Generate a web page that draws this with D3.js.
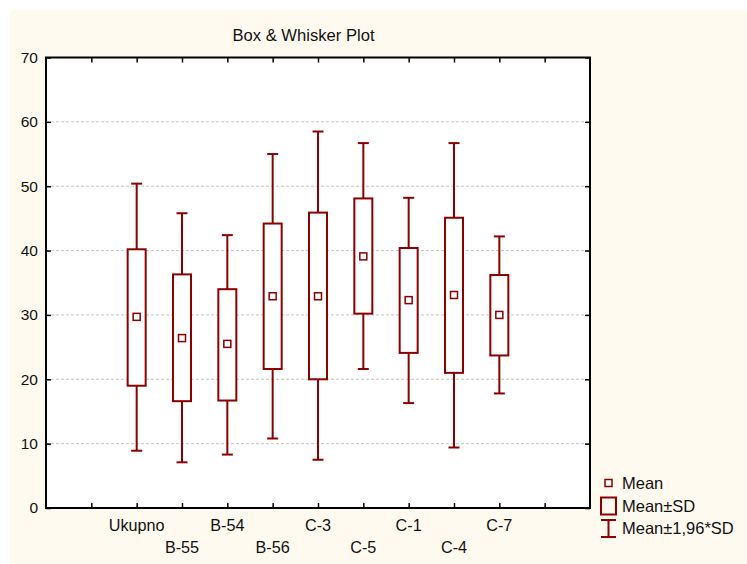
<!DOCTYPE html>
<html><head><meta charset="utf-8">
<script src="https://cdn.jsdelivr.net/npm/d3@7"></script>
<style>body{margin:0;background:#fff;}svg{display:block;}text{font-family:"Liberation Sans",Arial,sans-serif;fill:#111;}</style>
</head><body><svg id="c" width="747" height="564"></svg>
<script>
const categories = ["Ukupno","B-55","B-54","B-56","C-3","C-5","C-1","C-4","C-7"];
const means   = [29.7, 26.4, 25.5, 32.9, 32.9, 39.1, 32.3, 33.1, 30.0];
const sdLow   = [19.0, 16.6, 16.7, 21.6, 20.0, 30.2, 24.1, 21.0, 23.7];
const sdHigh  = [40.2, 36.3, 34.0, 44.2, 45.9, 48.1, 40.4, 45.1, 36.2];
const ciLow   = [8.9, 7.1, 8.3, 10.8, 7.5, 21.6, 16.3, 9.4, 17.8];
const ciHigh  = [50.4, 45.8, 42.4, 55.0, 58.5, 56.7, 48.2, 56.7, 42.2];
const yTicks  = [0,10,20,30,40,50,60,70];
const legendLabels = ["Mean","Mean±SD","Mean±1,96*SD"];
const title = "Box & Whisker Plot";

const col = "#8b0000";
const svg = d3.select("#c");
svg.append("rect").attr("x",10).attr("y",10).attr("width",737).attr("height",554).attr("fill","#fffaef");

const L=46,R=590,T=57.5,B=508;
const x = d3.scaleLinear().domain([0,categories.length+3]).range([L,R]);
const y = d3.scaleLinear().domain([0,70]).range([B,T]);

svg.append("rect").attr("x",L).attr("y",T).attr("width",R-L).attr("height",B-T).attr("fill","#fff");

// grid
svg.append("g").selectAll("line").data(yTicks.filter(d=>d>0&&d<70)).join("line")
  .attr("x1",L).attr("x2",R).attr("y1",d=>y(d)).attr("y2",d=>y(d))
  .attr("stroke","#c4c4c4").attr("stroke-width",1).attr("stroke-dasharray","3,2");

// axes
const tickIdx = d3.range(1,categories.length+3);
svg.append("g").attr("transform",`translate(${L},0)`)
  .call(d3.axisLeft(y).tickValues(yTicks).tickSize(-5).tickPadding(8).tickFormat(d3.format("d")))
  .call(g=>{g.select(".domain").remove();g.selectAll("text").style("font-size","15.5px").attr("fill","#111");g.selectAll("line").attr("stroke","#000").attr("stroke-width",1.5);});
svg.append("g").attr("transform",`translate(${R},0)`)
  .call(d3.axisRight(y).tickValues(yTicks).tickSize(-5).tickFormat(""))
  .call(g=>{g.select(".domain").remove();g.selectAll("line").attr("stroke","#000").attr("stroke-width",1.5);});
svg.append("g").attr("transform",`translate(0,${T})`)
  .call(d3.axisTop(x).tickValues(tickIdx).tickSize(-5).tickFormat(""))
  .call(g=>{g.select(".domain").remove();g.selectAll("line").attr("stroke","#000").attr("stroke-width",1.5);});
svg.append("g").attr("transform",`translate(0,${B})`)
  .call(d3.axisBottom(x).tickValues(tickIdx).tickSize(-5).tickFormat(""))
  .call(g=>{g.select(".domain").remove();g.selectAll("line").attr("stroke","#000").attr("stroke-width",1.5);});
svg.append("rect").attr("x",L).attr("y",T).attr("width",R-L).attr("height",B-T)
  .attr("fill","none").attr("stroke","#000").attr("stroke-width",2);

// category labels
svg.append("g").selectAll("text").data(categories).join("text")
  .attr("x",(d,i)=>x(i+2)).attr("y",(d,i)=>i%2===0?531:553)
  .attr("text-anchor","middle").style("font-size","16.2px").text(d=>d);

// title
svg.append("text").attr("x",303.5).attr("y",40.5).attr("text-anchor","middle").style("font-size","16.6px").text(title);

// boxes
const g = svg.append("g");
categories.forEach((c,i)=>{
  const cx = x(i+2);
  g.append("line").attr("x1",cx).attr("x2",cx).attr("y1",y(ciHigh[i])).attr("y2",y(sdHigh[i])).attr("stroke",col).attr("stroke-width",2);
  g.append("line").attr("x1",cx).attr("x2",cx).attr("y1",y(sdLow[i])).attr("y2",y(ciLow[i])).attr("stroke",col).attr("stroke-width",2);
  [ciHigh[i],ciLow[i]].forEach(v=>g.append("line").attr("x1",cx-5.5).attr("x2",cx+5.5).attr("y1",y(v)).attr("y2",y(v)).attr("stroke",col).attr("stroke-width",2));
  g.append("rect").attr("x",cx-9).attr("width",18).attr("y",y(sdHigh[i])).attr("height",y(sdLow[i])-y(sdHigh[i]))
    .attr("fill","#fff").attr("stroke",col).attr("stroke-width",2);
  g.append("rect").attr("x",cx-3.5).attr("width",7).attr("y",y(means[i])-3.5).attr("height",7)
    .attr("fill","#fff").attr("stroke",col).attr("stroke-width",1.5);
});

// legend
const lg = svg.append("g");
lg.append("rect").attr("x",605).attr("y",479.5).attr("width",7).attr("height",7).attr("fill","#fff").attr("stroke",col).attr("stroke-width",1.5);
lg.append("rect").attr("x",601).attr("y",497.5).attr("width",15).attr("height",17).attr("fill","none").attr("stroke",col).attr("stroke-width",2);
lg.append("line").attr("x1",608.5).attr("x2",608.5).attr("y1",520).attr("y2",537).attr("stroke",col).attr("stroke-width",2);
lg.append("line").attr("x1",601).attr("x2",616).attr("y1",520).attr("y2",520).attr("stroke",col).attr("stroke-width",2);
lg.append("line").attr("x1",601).attr("x2",616).attr("y1",537).attr("y2",537).attr("stroke",col).attr("stroke-width",2);
lg.selectAll("text").data(legendLabels).join("text")
  .attr("x",622).attr("y",(d,i)=>[489,512,534][i]).style("font-size","16.5px").text(d=>d);
</script></body></html>
